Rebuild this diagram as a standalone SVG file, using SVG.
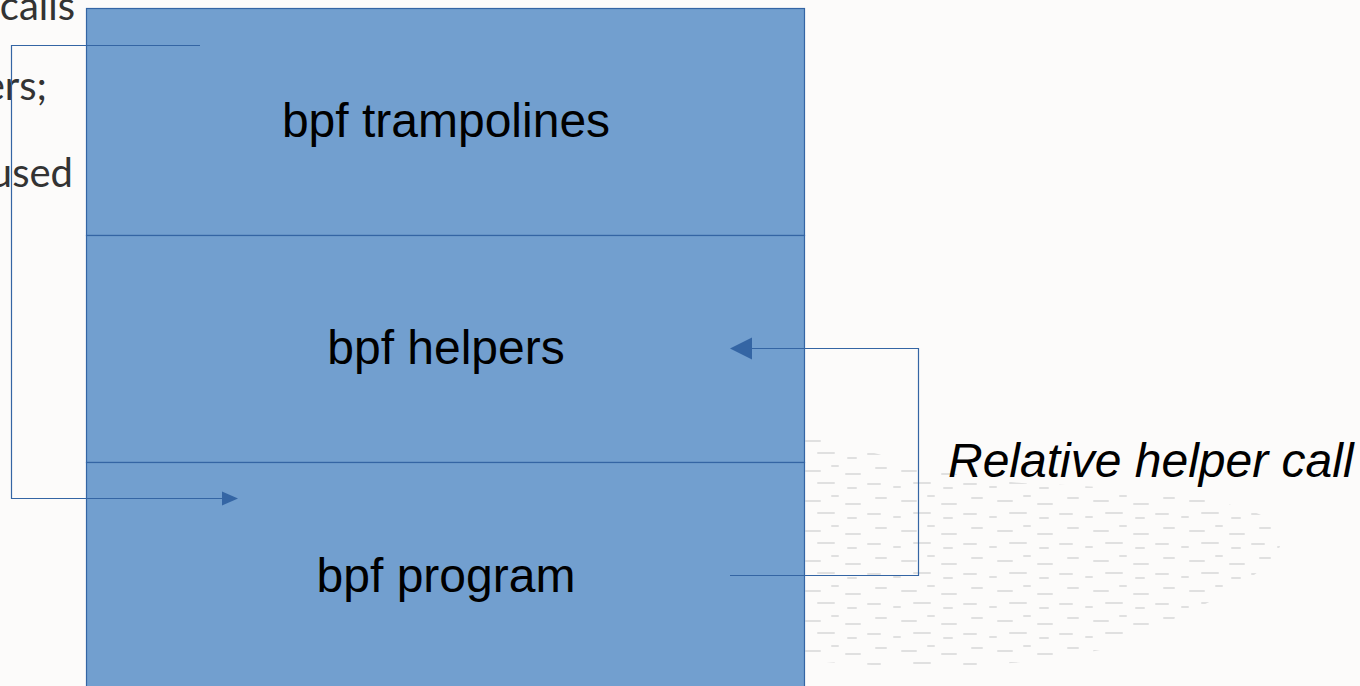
<svg xmlns="http://www.w3.org/2000/svg" width="1360" height="686" viewBox="0 0 1360 686">
<style>
.bg{fill:#fcfbfa}
.blk{fill:#729fcf;stroke:#3465a4;stroke-width:1.2}
.lbl{font-family:"Liberation Sans",Arial,sans-serif;font-size:48px;fill:#000;text-anchor:middle}
.side{font-family:Lato,"Liberation Sans",sans-serif;font-size:40px;fill:#333;text-anchor:end}
.con{fill:none;stroke:#3465a4;stroke-width:1.2}
.head{fill:#3465a4}
.spk{stroke:#e0e0e0;stroke-width:2;stroke-linecap:round}
</style>
<defs>
<pattern id="speck" width="96" height="30" patternUnits="userSpaceOnUse">
<line class="spk" x1="4" y1="4" x2="16" y2="4"/>
<line class="spk" x1="30" y1="7" x2="36" y2="7"/>
<line class="spk" x1="50" y1="3" x2="66" y2="3"/>
<line class="spk" x1="80" y1="8" x2="88" y2="8"/>
<line class="spk" x1="12" y1="18" x2="22" y2="18"/>
<line class="spk" x1="38" y1="21" x2="52" y2="21"/>
<line class="spk" x1="64" y1="16" x2="70" y2="16"/>
<line class="spk" x1="78" y1="24" x2="92" y2="24"/>
</pattern>
<clipPath id="spclip">
<path d="M805,436 C880,450 940,480 1040,484 C1150,488 1260,500 1282,530 C1290,570 1200,610 1100,650 C1000,672 880,668 805,660 Z"/>
</clipPath>
</defs>
<rect class="bg" x="0" y="0" width="1360" height="686"/>
<rect x="800" y="430" width="490" height="245" fill="url(#speck)" clip-path="url(#spclip)"/>
<g id="side-text">
<text class="side" x="75" y="20">calls</text>
<text class="side" x="47" y="100">ers;</text>
<text class="side" x="73" y="187">used</text>
</g>
<g id="trampolines">
<rect class="blk" x="86.5" y="8.5" width="718" height="227"/>
<text class="lbl" x="446" y="137">bpf trampolines</text>
</g>
<g id="helpers">
<rect class="blk" x="86.5" y="235.5" width="718" height="227"/>
<text class="lbl" x="446" y="364">bpf helpers</text>
</g>
<g id="program">
<rect class="blk" x="86.5" y="462.5" width="718" height="240"/>
<text class="lbl" x="446" y="592">bpf program</text>
</g>
<g id="connectors">
<polyline class="con" points="200,45.5 11.5,45.5 11.5,498.5 224,498.5"/>
<polygon class="head" points="238,498.5 222,491.5 222,505.5"/>
<polyline class="con" points="730,575.5 918.5,575.5 918.5,348.5 750,348.5"/>
<polygon class="head" points="730,348.5 752,337.5 752,359.5"/>
</g>
<g id="label-relative">
<text x="948" y="477" font-family="Liberation Sans, Arial, sans-serif" font-size="48" font-style="italic" fill="#000">Relative helper call</text>
</g>
</svg>
